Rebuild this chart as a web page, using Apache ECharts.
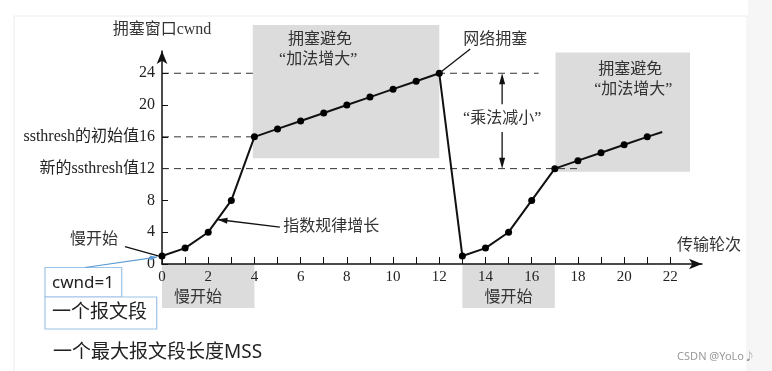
<!DOCTYPE html>
<html><head><meta charset="utf-8">
<script src="https://cdn.jsdelivr.net/npm/echarts@6/dist/echarts.min.js"></script>
<style>html,body{margin:0;padding:0;background:#fff}#c{width:772px;height:371px}</style>
</head><body><div id="c"></div>
<script>
// ---- data ----
const rounds = [0,1,2,3,4,5,6,7,8,9,10,11,12,13,14,15,16,17,18,19,20,21];
const cwnd   = [1,2,4,8,16,17,18,19,20,21,22,23,24,1,2,4,8,12,13,14,15,16];
const tailPoint = [21.65, 16.6];
const xTickValues = [0,1,2,3,4,5,6,7,8,9,10,11,12,13,14,15,16,17,18,19,20,21,22];
const xLabelValues = [0,2,4,6,8,10,12,14,16,18,20,22];
const yTickValues = [0,4,8,12,16,20,24];
const yLabelText = {0:'0',4:'4',8:'8',12:'新的ssthresh值12',16:'ssthresh的初始值16',20:'20',24:'24'};
const ssthreshInit = 16, ssthreshNew = 12, peakCwnd = 24;
const xTitle = '传输轮次', yTitle = '拥塞窗口cwnd';

const SERIF = "'Liberation Serif','Noto Sans CJK SC',serif";
const SANS = "'Noto Sans','Noto Sans CJK SC',sans-serif";

const seriesData = rounds.map((r,i)=>[r,cwnd[i]]);
seriesData.push({value: tailPoint, symbol: 'none'});

const chart = echarts.init(document.getElementById('c'), null, {renderer:'canvas'});
const option = {
  animation: false,
  backgroundColor: '#fff',
  grid: {left:162, right:70, top:51, bottom:107},
  xAxis: {
    type:'value', min:0, max:23.37,
    name: xTitle, nameLocation:'end', nameGap:7,
    nameTextStyle:{fontFamily:SERIF, fontSize:16, color:'#333', align:'center', verticalAlign:'bottom', padding:[0,0,10,0]},
    axisLine:{symbol:['none','arrow'], symbolSize:[8,13], lineStyle:{color:'#111', width:1.5}},
    axisTick:{inside:true, length:7, customValues:xTickValues, lineStyle:{color:'#111', width:1}},
    axisLabel:{customValues:xLabelValues, fontFamily:SERIF, fontSize:15, color:'#222', margin:6},
    splitLine:{show:false}
  },
  yAxis: {
    type:'value', min:0, max:26.8,
    name: yTitle, nameLocation:'end', nameGap:13,
    nameTextStyle:{fontFamily:SERIF, fontSize:16, color:'#333', align:'center'},
    axisLine:{symbol:['none','arrow'], symbolSize:[8,13], lineStyle:{color:'#111', width:1.5}},
    axisTick:{inside:true, length:6, customValues:yTickValues, lineStyle:{color:'#111', width:1}},
    axisLabel:{customValues:yTickValues, fontFamily:SERIF, fontSize:16, color:'#222', margin:7,
      formatter:(v)=> yLabelText[v] !== undefined ? yLabelText[v] : ''},
    splitLine:{show:false}
  },
  series: [{
    type:'line', data: seriesData, clip:false, z:5,
    symbol:'circle', symbolSize:7,
    itemStyle:{color:'#000'},
    lineStyle:{color:'#111', width:2}
  }]
};
chart.setOption(option);

const P = (x,y) => chart.convertToPixel({gridIndex:0}, [x,y]);
function rectD(x0,y0,x1,y1,style,z){
  const a=P(x0,y0), b=P(x1,y1);
  return {type:'rect', z:z, shape:{x:Math.min(a[0],b[0]), y:Math.min(a[1],b[1]), width:Math.abs(b[0]-a[0]), height:Math.abs(b[1]-a[1])}, style:style};
}
function lineP(a,b,style,z){
  return {type:'line', z:z, shape:{x1:a[0],y1:a[1],x2:b[0],y2:b[1]}, style:style};
}
function headP(from,tip,len,w,color,z){
  const dx=tip[0]-from[0], dy=tip[1]-from[1], L=Math.hypot(dx,dy);
  const ux=dx/L, uy=dy/L, bx=tip[0]-ux*len, by=tip[1]-uy*len, nx=-uy, ny=ux;
  return {type:'polygon', z:z, shape:{points:[[tip[0],tip[1]],[bx+nx*w/2,by+ny*w/2],[bx-nx*w/2,by-ny*w/2]]}, style:{fill:color}};
}
function textP(p,txt,opt){
  return {type:'text', z:opt.z||10, x:p[0], y:p[1], style:Object.assign({text:txt, fill:'#333', font:'16px '+SERIF, align:'center', verticalAlign:'middle'}, opt.style||{})};
}
const grey = {fill:'#dcdcdc'};
const dash = {stroke:'#333', lineWidth:1, lineDash:[7,5]};
const blk = {stroke:'#111', lineWidth:1.3};
const G = [];
// page frame
G.push({type:'rect', z:-10, shape:{x:14,y:16,width:733,height:360}, style:{fill:'none', stroke:'#ececec', lineWidth:1}});
G.push({type:'rect', z:-10, shape:{x:748,y:0,width:24,height:371}, style:{fill:'#f6f6f6'}});
// dashed reference lines
G.push(lineP(P(0,peakCwnd), P(16.3,peakCwnd), dash, -3));
G.push(lineP(P(0,ssthreshInit), P(4,ssthreshInit), dash, -3));
G.push(lineP(P(0,ssthreshNew), P(18,ssthreshNew), dash, 1));
// grey boxes
G.push(rectD(3.93,30.06,12.0,13.3,grey,-1));
G.push(rectD(17.03,26.6,22.85,11.6,grey,-1));
G.push(rectD(0,0,4,-5.55,grey,-1));
G.push(rectD(13,0,17,-5.55,grey,-1));
// box texts
G.push(textP(P(6.84,28.2),'拥塞避免',{}));
G.push(textP(P(6.76,25.7),'“加法增大”',{}));
G.push(textP(P(20.27,24.4),'拥塞避免',{}));
G.push(textP(P(20.4,21.9),'“加法增大”',{}));
G.push(textP(P(1.56,-4.28),'慢开始',{}));
G.push(textP(P(15.0,-4.28),'慢开始',{}));
// network congestion
G.push(textP(P(14.42,28.2),'网络拥塞',{}));
G.push(lineP(P(12,24), P(13.34,27.04), blk, 6));
// multiplicative decrease
G.push(textP(P(14.72,18.3),'“乘法减小”',{}));
const mdTop=P(14.72,24), mdUpS=P(14.72,20.1), mdLowS=P(14.72,16.6), mdBot=P(14.72,12);
G.push(lineP(mdUpS, [mdTop[0],mdTop[1]+8], blk, 6));
G.push(headP(mdUpS, mdTop, 11, 6, '#111', 6));
G.push(lineP(mdLowS, [mdBot[0],mdBot[1]-8], blk, 6));
G.push(headP(mdLowS, mdBot, 11, 6, '#111', 6));
// exponential growth
G.push(textP(P(7.32,4.65),'指数规律增长',{}));
const egFrom=P(5.1,4.65), egTip=P(2.4,5.6);
G.push(lineP(egFrom, egTip, blk, 6));
G.push(headP(egFrom, egTip, 10, 6, '#111', 6));
// slow start left annotation
const p0 = P(rounds[0], cwnd[0]);
G.push(textP([94,240],'慢开始',{}));
G.push(lineP([125,246.7],[p0[0]-3,p0[1]], blk, 6));
// blue boxes
const blueBox = {fill:'#fff', stroke:'#9dc3e6', lineWidth:1.2};
G.push({type:'rect', z:7, shape:{x:45,y:267.5,width:76.7,height:29.5}, style:blueBox});
G.push({type:'rect', z:7, shape:{x:45,y:297,width:111.7,height:32}, style:blueBox});
G.push(textP([52,283],'cwnd=1',{style:{font:'17px '+SANS, fill:'#222', align:'left'}}));
G.push(textP([52,313],'一个报文段',{style:{font:'19px '+SANS, fill:'#222', align:'left'}}));
const blueFrom=[85,267.5], blueTip=[p0[0]-5,p0[1]+1];
G.push(lineP(blueFrom, blueTip, {stroke:'#5b9bd5', lineWidth:1.2}, 8));
G.push(headP(blueFrom, blueTip, 7, 5, '#5b9bd5', 8));
G.push(textP([53,353],'一个最大报文段长度MSS',{style:{font:'19px '+SANS, fill:'#222', align:'left'}}));
G.push(textP([755,357],'CSDN @YoLo♪',{style:{font:'11px '+SANS, fill:'#999', align:'right'}}));
chart.setOption({graphic: G});
</script></body></html>
